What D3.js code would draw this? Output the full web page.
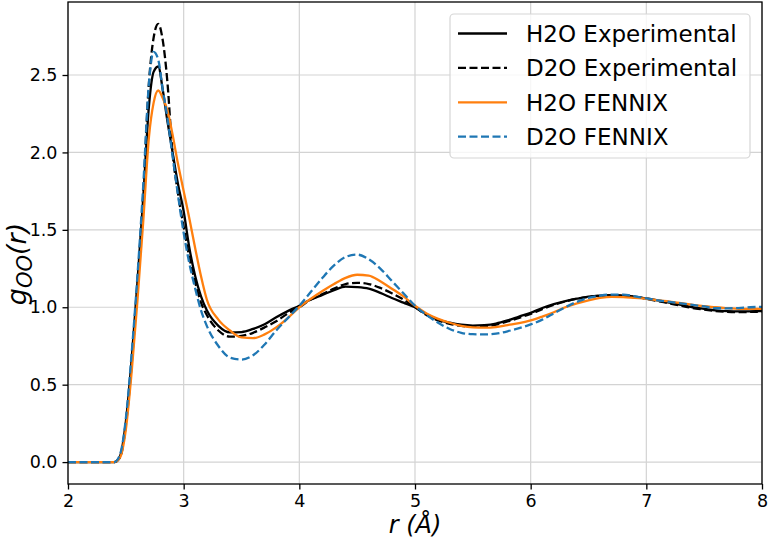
<!DOCTYPE html>
<html>
<head>
<meta charset="utf-8">
<script src="https://cdn.jsdelivr.net/npm/d3@7"></script>
<style>
  body { margin: 0; background: #fff; }
  text { font-family: "DejaVu Sans", sans-serif; fill: #000; }
</style>
</head>
<body>
<svg id="chart" width="769" height="543"></svg>
<script>
// r grid (Angstrom)
const rValues = [
  2.0, 2.2, 2.4, 2.45, 2.5, 2.55, 2.6, 2.65, 2.7, 2.74, 2.78, 2.82, 2.86, 2.9, 2.95, 3.0, 3.05, 3.1, 3.15, 3.2,
  3.3, 3.4, 3.5, 3.6, 3.7, 3.8, 3.9, 4.0,
  4.1, 4.2, 4.3, 4.4, 4.5, 4.6, 4.7, 4.8, 4.9, 5.0,
  5.1, 5.2, 5.3, 5.4, 5.5, 5.6, 5.7, 5.8, 5.9, 6.0,
  6.1, 6.2, 6.3, 6.4, 6.5, 6.6, 6.7, 6.8, 6.9, 7.0,
  7.1, 7.2, 7.3, 7.4, 7.5, 7.6, 7.7, 7.8, 7.9, 8.0
]

const h2oExperimental = [
  0, 0, 0, 0.04, 0.26, 0.66, 1.16, 1.7, 2.3, 2.52, 2.555, 2.4, 2.2, 2.02, 1.8, 1.62, 1.38, 1.2, 1.07, 0.98,
  0.88, 0.838, 0.84, 0.86, 0.89, 0.935, 0.975, 1.01,
  1.05, 1.08, 1.11, 1.133, 1.13, 1.12, 1.093, 1.06, 1.03, 1.0,
  0.955, 0.92, 0.9, 0.887, 0.882, 0.885, 0.895, 0.915, 0.94, 0.964,
  0.995, 1.02, 1.04, 1.055, 1.068, 1.075, 1.078, 1.075, 1.068, 1.057,
  1.045, 1.03, 1.015, 1.0, 0.99, 0.98, 0.975, 0.973, 0.974, 0.975
]

const d2oExperimental = [
  0, 0, 0, 0.03, 0.24, 0.63, 1.14, 1.72, 2.45, 2.74, 2.83, 2.72, 2.45, 2.03, 1.74, 1.52, 1.32, 1.16, 1.03, 0.95,
  0.85, 0.81, 0.815, 0.835, 0.87, 0.91, 0.96, 1.0,
  1.05, 1.085, 1.12, 1.15, 1.158, 1.15, 1.125, 1.09, 1.05, 1.0,
  0.95, 0.915, 0.893, 0.88, 0.874, 0.877, 0.888, 0.908, 0.932, 0.957,
  0.988, 1.015, 1.037, 1.055, 1.067, 1.074, 1.077, 1.075, 1.067, 1.055,
  1.04, 1.025, 1.01, 0.995, 0.985, 0.975, 0.97, 0.968, 0.97, 0.972
]

const h2oFennix = [
  0, 0, 0, 0.03, 0.21, 0.58, 1.04, 1.55, 2.1, 2.32, 2.40, 2.35, 2.27, 2.13, 1.93, 1.75, 1.57, 1.38, 1.2, 1.05,
  0.92, 0.85, 0.805, 0.8, 0.825, 0.87, 0.93, 1.0,
  1.055, 1.105, 1.15, 1.19, 1.21, 1.205, 1.168, 1.12, 1.07, 1.01,
  0.96, 0.925, 0.9, 0.88, 0.87, 0.868, 0.872, 0.885, 0.897, 0.915,
  0.94, 0.968, 1.0, 1.025, 1.045, 1.06, 1.067, 1.065, 1.06, 1.055,
  1.045, 1.037, 1.027, 1.015, 1.007, 1.0, 0.995, 0.99, 0.99, 0.99
]

const d2oFennix = [
  0, 0, 0, 0.05, 0.28, 0.7, 1.2, 1.78, 2.45, 2.65, 2.6, 2.4, 2.22, 2.0, 1.73, 1.48, 1.28, 1.12, 0.98, 0.88,
  0.75, 0.675, 0.662, 0.69, 0.76, 0.85, 0.93, 1.01,
  1.10, 1.19, 1.27, 1.325, 1.34, 1.31, 1.25, 1.17, 1.09, 1.01,
  0.95, 0.9, 0.86, 0.835, 0.826, 0.825, 0.83, 0.845, 0.865, 0.889,
  0.92, 0.96, 1.0, 1.035, 1.06, 1.075, 1.082, 1.082, 1.07, 1.057,
  1.045, 1.035, 1.025, 1.015, 1.005, 0.995, 0.993, 0.995, 1.0, 1.003
]

const seriesNames = ['H2O Experimental', 'D2O Experimental', 'H2O FENNIX', 'D2O FENNIX']
const seriesColors = ['#000000', '#000000', '#ff7f0e', '#1f77b4']
const seriesDashed = [false, true, false, true]
const xTicks = [2, 3, 4, 5, 6, 7, 8]
const yTicks = [0, 0.5, 1.0, 1.5, 2.0, 2.5]

const allSeries = [h2oExperimental, d2oExperimental, h2oFennix, d2oFennix]

// layout
const margin = { top: 2, right: 7, bottom: 59, left: 68 }
const width = 769 - margin.left - margin.right
const height = 543 - margin.top - margin.bottom

const svg = d3.select('#chart')
const g = svg.append('g')
  .attr('transform', `translate(${margin.left},${margin.top})`)

const x = d3.scaleLinear().domain([2, 8]).range([0, width])
const y = d3.scaleLinear().domain([-0.1415, 2.9715]).range([height, 0])

// grid
g.append('g')
  .selectAll('line')
  .data(xTicks)
  .enter()
  .append('line')
  .attr('x1', d => x(d)).attr('x2', d => x(d))
  .attr('y1', 0).attr('y2', height)
  .attr('stroke', '#d3d3d3').attr('stroke-width', 1.2)

g.append('g')
  .selectAll('line')
  .data(yTicks)
  .enter()
  .append('line')
  .attr('x1', 0).attr('x2', width)
  .attr('y1', d => y(d)).attr('y2', d => y(d))
  .attr('stroke', '#d3d3d3').attr('stroke-width', 1.2)

// lines
g.append('clipPath').attr('id', 'plotclip')
  .append('rect').attr('width', width).attr('height', height)

const line = d3.line()
  .x(d => x(d[0]))
  .y(d => y(d[1]))
  .curve(d3.curveMonotoneX)

allSeries.forEach((vals, i) => {
  const pts = rValues.map((r, k) => [r, vals[k]])
  g.append('path')
    .attr('clip-path', 'url(#plotclip)')
    .attr('d', line(pts))
    .attr('fill', 'none')
    .attr('stroke', seriesColors[i])
    .attr('stroke-width', 2.3)
    .attr('stroke-dasharray', seriesDashed[i] ? '8,3.5' : null)
})

// axes
const xAxis = d3.axisBottom(x).tickValues(xTicks).tickSize(5.5).tickPadding(5).tickFormat(d3.format('d'))
const yAxis = d3.axisLeft(y).tickValues(yTicks).tickSize(5.5).tickPadding(5).tickFormat(d3.format('.1f'))

const gx = g.append('g').attr('transform', `translate(0,${height})`).call(xAxis)
const gy = g.append('g').call(yAxis)

;[gx, gy].forEach(ax => {
  ax.select('.domain').remove()
  ax.selectAll('line').attr('stroke', '#000').attr('stroke-width', 1.3)
  ax.selectAll('text').style('font-size', '17.5px').style('font-family', '"DejaVu Sans", sans-serif')
})

// frame
g.append('rect')
  .attr('width', width).attr('height', height)
  .attr('fill', 'none').attr('stroke', '#000').attr('stroke-width', 1.3)

// axis labels
svg.append('text')
  .attr('x', margin.left + width / 2)
  .attr('y', 533)
  .attr('text-anchor', 'middle')
  .style('font-size', '24px')
  .style('font-style', 'italic')
  .text('r (Å)')

const ylab = svg.append('text')
  .attr('transform', `translate(26,${margin.top + height / 2 + 21}) rotate(-90)`)
  .attr('text-anchor', 'middle')
  .style('font-size', '27px')
  .style('font-style', 'italic')
ylab.append('tspan').text('g')
ylab.append('tspan').attr('dy', 6).style('font-size', '21px').text('OO')
ylab.append('tspan').attr('dy', -6).text('(r)')

// legend
const legend = svg.append('g')
legend.append('rect')
  .attr('x', 450).attr('y', 14)
  .attr('width', 300).attr('height', 144)
  .attr('rx', 4)
  .attr('fill', '#fff').attr('fill-opacity', 0.8)
  .attr('stroke', '#d6d6d6').attr('stroke-width', 1.2)

seriesNames.forEach((name, i) => {
  const cy = 33.5 + i * 34.4
  legend.append('line')
    .attr('x1', 458).attr('x2', 507)
    .attr('y1', cy).attr('y2', cy)
    .attr('stroke', seriesColors[i])
    .attr('stroke-width', 2.3)
    .attr('stroke-dasharray', seriesDashed[i] ? '8,3.5' : null)
  legend.append('text')
    .attr('x', 526).attr('y', cy + 8.3)
    .style('font-size', '23px')
    .text(name)
})
</script>
</body>
</html>
